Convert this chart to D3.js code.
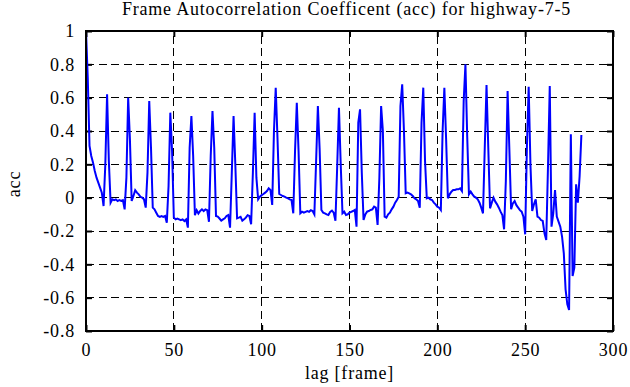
<!DOCTYPE html>
<html>
<head>
<meta charset="utf-8">
<script src="https://cdn.jsdelivr.net/npm/d3@7"></script>
<style>
  body { margin: 0; background: #fff; }
  svg text { font-family: "Liberation Serif", "Times New Roman", serif; fill: #000; letter-spacing: 0.8px; }
</style>
</head>
<body>
<script>
var width = 630,
    height = 387;
var margin = { top: 31, right: 17, bottom: 56, left: 86 };

var titleText = "Frame Autocorrelation Coefficent (acc) for highway-7-5";
var xLabelText = "lag [frame]";
var yLabelText = "acc";

var xTicks = [0, 50, 100, 150, 200, 250, 300];
var yTicks = [-0.8, -0.6, -0.4, -0.2, 0, 0.2, 0.4, 0.6, 0.8, 1];
var yTickLabels = ["-0.8", "-0.6", "-0.4", "-0.2", "0", "0.2", "0.4", "0.6", "0.8", "1"];

// acc value for lag 0,1,2,...
var acc = [
  1.0, 0.72, 0.31, 0.25, 0.21, 0.16, 0.12, 0.09, 0.06, 0.03, -0.05, 0.2,
  0.62, 0.22, -0.03, -0.01, -0.015, -0.01, -0.02, -0.015, -0.02, -0.015, -0.07, 0.12,
  0.60, 0.35, -0.02, 0.01, 0.045, 0.03, 0.02, 0.005, 0.0, -0.01, -0.06, 0.15,
  0.58, 0.3, -0.06, -0.07, -0.09, -0.11, -0.115, -0.11, -0.115, -0.11, -0.15, 0.07,
  0.51, 0.28, -0.12, -0.13, -0.125, -0.13, -0.135, -0.13, -0.14, -0.13, -0.18, 0.3,
  0.49, 0.25, -0.105, -0.075, -0.095, -0.08, -0.07, -0.08, -0.07, -0.075, -0.145, 0.25,
  0.52, 0.3, -0.11, -0.114, -0.125, -0.138, -0.13, -0.124, -0.11, -0.104, -0.18, 0.15,
  0.49, 0.2, -0.124, -0.12, -0.115, -0.138, -0.13, -0.12, -0.105, -0.11, -0.16, 0.15,
  0.51, 0.12, -0.01, 0.006, 0.015, 0.022, 0.03, 0.04, 0.056, 0.046, -0.044, 0.4,
  0.66, 0.36, 0.022, 0.016, 0.01, 0.006, 0.0, -0.004, -0.01, -0.014, -0.094, 0.28,
  0.57, 0.28, -0.094, -0.084, -0.09, -0.085, -0.08, -0.085, -0.075, -0.08, -0.1, 0.22,
  0.55, 0.29, -0.074, -0.09, -0.094, -0.1, -0.104, -0.085, -0.078, -0.09, -0.138, 0.19,
  0.54, 0.2, -0.094, -0.084, -0.104, -0.1, -0.09, -0.085, -0.08, -0.074, -0.174, 0.45,
  0.53, 0.15, -0.134, -0.1, -0.084, -0.08, -0.074, -0.07, -0.054, -0.06, -0.164, 0.12,
  0.55, 0.4, -0.114, -0.12, -0.1, -0.09, -0.07, -0.054, -0.03, -0.014, 0.006, 0.55,
  0.68, 0.4, 0.026, 0.03, 0.026, 0.02, 0.01, -0.004, -0.01, -0.02, -0.06, 0.45,
  0.66, 0.22, -0.004, 0.0, -0.01, -0.014, -0.03, -0.04, -0.054, -0.06, -0.074, 0.4,
  0.66, 0.35, -0.004, 0.02, 0.036, 0.046, 0.046, 0.05, 0.05, 0.056, 0.04, 0.58,
  0.80, 0.37, 0.02, 0.036, 0.02, 0.006, 0.0, -0.01, -0.03, -0.06, -0.094, 0.3,
  0.676, 0.3, -0.064, -0.03, 0.0, -0.024, -0.04, -0.06, -0.084, -0.104, -0.19, 0.1,
  0.64, 0.29, -0.07, -0.034, -0.02, -0.045, -0.06, -0.075, -0.084, -0.114, -0.22, 0.31,
  0.665, 0.2, -0.08, -0.04, -0.01, -0.114, -0.12, -0.134, -0.14, -0.214, -0.254, 0.19,
  0.67, -0.174, -0.094, 0.046, -0.114, -0.144, -0.174, -0.234, -0.334, -0.55, -0.64, -0.674,
  0.38, -0.47, -0.42, 0.08, -0.03, 0.13, 0.376
];

var w = width - margin.left - margin.right,
    h = height - margin.top - margin.bottom;

var svg = d3.select("body").append("svg")
    .attr("width", width)
    .attr("height", height);

var g = svg.append("g")
    .attr("transform", "translate(" + margin.left + "," + margin.top + ")");

var x = d3.scaleLinear().domain([0, 300]).range([0, w]);
var y = d3.scaleLinear().domain([-0.8, 1]).range([h, 0]);

// dashed grid
g.selectAll(".hgrid")
    .data(yTicks.slice(1, -1))
    .enter().append("line")
    .attr("class", "hgrid")
    .attr("x1", 0).attr("x2", w)
    .attr("y1", function (d) { return y(d); })
    .attr("y2", function (d) { return y(d); });

g.selectAll(".vgrid")
    .data(xTicks.slice(1, -1))
    .enter().append("line")
    .attr("class", "vgrid")
    .attr("x1", function (d) { return x(d); })
    .attr("x2", function (d) { return x(d); })
    .attr("y1", h).attr("y2", 0);

g.selectAll(".hgrid, .vgrid")
    .attr("stroke", "#000")
    .attr("stroke-width", 1)
    .attr("stroke-dasharray", "8,4.5")
    .attr("shape-rendering", "crispEdges");

// axes, ticks pointing inward like gnuplot
g.append("g")
    .call(d3.axisLeft(y).tickValues(yTicks).tickSize(-6).tickPadding(11)
        .tickFormat(function (d, i) { return yTickLabels[i]; }));

g.append("g")
    .attr("transform", "translate(0," + h + ")")
    .call(d3.axisBottom(x).tickValues(xTicks).tickSize(-6).tickPadding(12)
        .tickFormat(function (d) { return d; }));

g.append("g")
    .attr("transform", "translate(" + w + ",0)")
    .call(d3.axisRight(y).tickValues(yTicks).tickSize(-6).tickFormat(""));

g.append("g")
    .call(d3.axisTop(x).tickValues(xTicks).tickSize(-6).tickFormat(""));

g.selectAll(".domain").remove();
g.selectAll(".tick line").attr("stroke", "#000").attr("stroke-width", 2);
g.selectAll(".tick text")
    .attr("font-family", "'Liberation Serif', serif")
    .style("font-size", "18px")
    .style("font-family", "'Liberation Serif', serif");

// data line
var line = d3.line()
    .x(function (d, i) { return x(i); })
    .y(function (d) { return y(d); });

g.append("path")
    .datum(acc)
    .attr("fill", "none")
    .attr("stroke", "#0000ff")
    .attr("stroke-width", 2)
    .attr("stroke-linejoin", "miter")
    .attr("d", line);

// border
g.append("rect")
    .attr("width", w)
    .attr("height", h)
    .attr("fill", "none")
    .attr("stroke", "#000")
    .attr("stroke-width", 2);

// titles
svg.append("text")
    .attr("x", margin.left + w / 2 - 3)
    .attr("y", 15)
    .attr("text-anchor", "middle")
    .style("font-size", "18px")
    .text(titleText);

svg.append("text")
    .attr("x", margin.left + w / 2)
    .attr("y", 379)
    .attr("text-anchor", "middle")
    .style("font-size", "18px")
    .text(xLabelText);

svg.append("text")
    .attr("transform", "translate(20,184) rotate(-90)")
    .attr("text-anchor", "middle")
    .style("font-size", "18px")
    .text(yLabelText);
</script>
</body>
</html>
